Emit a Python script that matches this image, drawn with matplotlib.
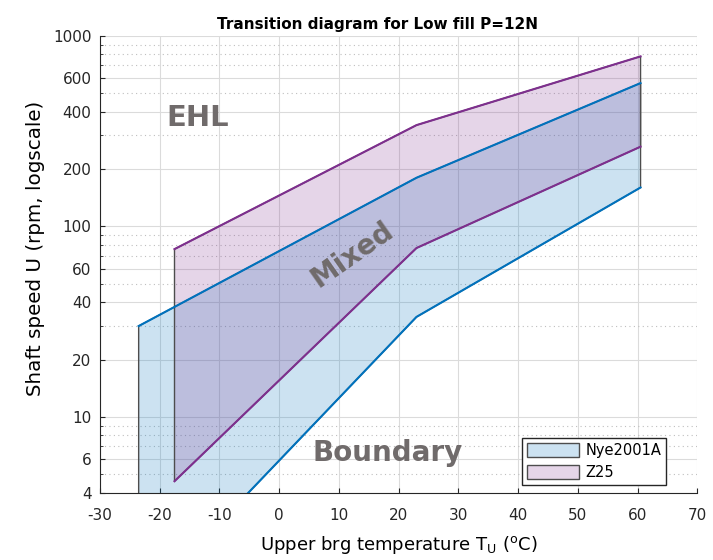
import numpy as np
import matplotlib.pyplot as plt
from matplotlib.ticker import FixedLocator, NullFormatter

plt.rcParams['font.family'] = ['DejaVu Sans']
plt.rcParams['axes.unicode_minus'] = False
plt.rcParams['mathtext.default'] = 'regular'

# Nye2001A band (upper / lower transition lines)
nye_x = [-23.5, 23, 60.5]
nye_upper = [30, 180, 565]
nye_lower = [1.0, 33.5, 160]

# Z25 band
z25_x = [-17.5, 23, 60.5]
z25_upper = [76, 340, 780]
z25_lower = [4.6, 77, 262]

yticks = [4, 6, 10, 20, 40, 60, 100, 200, 400, 600, 1000]
xticks = list(range(-30, 71, 10))

blue = (0, 0.447, 0.741)
purple = (0.494, 0.184, 0.556)

fig = plt.figure(figsize=(7.13, 5.6), dpi=100)
ax = fig.add_axes([0.140, 0.120, 0.838, 0.816])

def band(xs, up, lo, col, lab):
    px = list(xs) + list(xs[::-1])
    py = list(up) + list(lo[::-1])
    ax.fill(px, py, facecolor=col + (0.2,), edgecolor=(0.3, 0.3, 0.3), lw=1.0, label=lab, zorder=2)
    ax.plot(xs, up, color=col, lw=1.5, zorder=4)
    ax.plot(xs, lo, color=col, lw=1.5, zorder=4)

band(nye_x, nye_upper, nye_lower, blue, 'Nye2001A')
band(z25_x, z25_upper, z25_lower, purple, 'Z25')

ax.set_yscale('log')
ax.set_xlim(-30, 70)
ax.set_ylim(4, 1000)
ax.set_xticks(xticks)
ax.yaxis.set_major_locator(FixedLocator(yticks))
ax.yaxis.set_major_formatter(plt.FuncFormatter(lambda v, p: '%g' % v))
minor = [m * 10 ** e for e in range(0, 4) for m in range(1, 10)]
minor = [v for v in minor if 4 <= v <= 1000 and v not in yticks]
ax.yaxis.set_minor_locator(FixedLocator(minor))
ax.yaxis.set_minor_formatter(NullFormatter())

ax.grid(True, which='major', color=(0.86, 0.86, 0.86), lw=0.8, zorder=0)
ax.grid(True, which='minor', axis='y', color=(0.75, 0.75, 0.75), lw=0.8, ls=(0, (1, 3)), zorder=0)
ax.set_axisbelow(True)

for s in ['top', 'right']:
    ax.spines[s].set_visible(False)
for s in ['left', 'bottom']:
    ax.spines[s].set_color((0.15, 0.15, 0.15))
ax.tick_params(which='both', direction='in', labelsize=11, colors=(0.15, 0.15, 0.15))
ax.tick_params(axis='x', pad=11)
ax.tick_params(axis='y', pad=6)
ax.tick_params(which='minor', length=2)

ax.set_title('Transition diagram for Low fill P=12N', fontsize=11, fontweight='bold', pad=5, x=0.465)
ax.set_xlabel('Upper brg temperature T$_{U}$ ($^{o}$C)', fontsize=13, labelpad=8)
ax.set_ylabel('Shaft speed U (rpm, logscale)', fontsize=14.3, labelpad=6, y=0.535)

tcol = (0.44, 0.42, 0.42)
ax.text(-13.6, 370, 'EHL', fontsize=21, fontweight='bold', color=tcol, ha='center', va='center', zorder=5)
ax.text(12.2, 71, 'Mixed', fontsize=20, fontweight='bold', color=tcol, ha='center', va='center', rotation=35, zorder=5)
ax.text(18.2, 6.5, 'Boundary', fontsize=20, fontweight='bold', color=tcol, ha='center', va='center', zorder=5)

leg = ax.legend(loc='lower right', bbox_to_anchor=(0.948, 0.017), fontsize=10.5, fancybox=False,
                edgecolor=(0.15, 0.15, 0.15), framealpha=1, handlelength=3.6, handleheight=1.1,
                handletextpad=0.4, borderpad=0.35, labelspacing=0.5, borderaxespad=0)

fig.savefig('out.png', dpi=100)
